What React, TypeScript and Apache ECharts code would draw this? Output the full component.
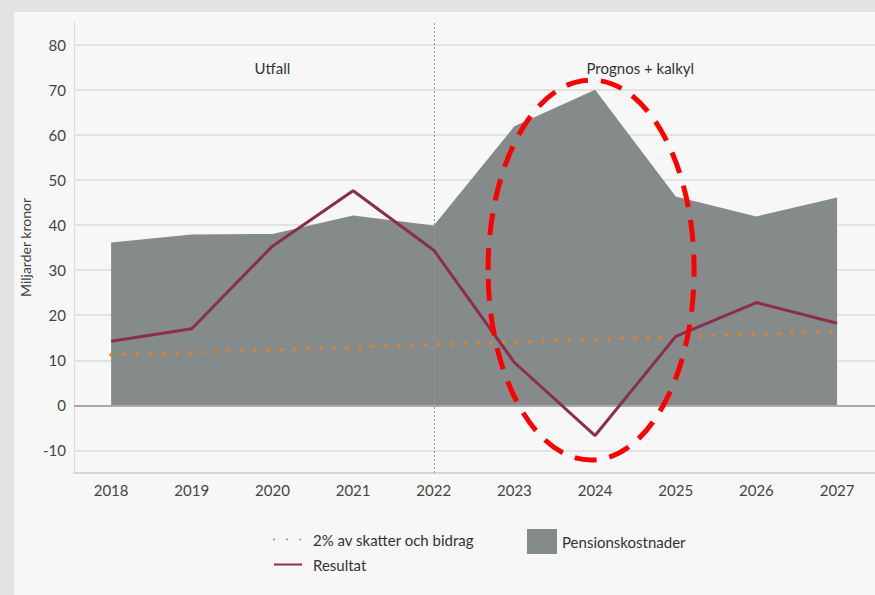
import React, { useEffect, useRef } from "react";
import * as echarts from "echarts";

const years = [2018, 2019, 2020, 2021, 2022, 2023, 2024, 2025, 2026, 2027];
const pension = [36.1, 37.9, 38.0, 42.1, 39.9, 61.9, 70.0, 46.3, 41.9, 46.1];
const resultat = [14.2, 17.0, 35.3, 47.6, 34.4, 9.5, -6.7, 15.3, 22.8, 18.2];
const tvaProcent = [11.2, 11.7, 12.3, 12.9, 13.5, 14.0, 14.6, 15.2, 15.8, 16.4];
const yTicks = [-10, 0, 10, 20, 30, 40, 50, 60, 70, 80];

const FONT = "Lato, 'Noto Sans', sans-serif";

export default function App() {
  const ref = useRef<HTMLDivElement>(null);
  useEffect(() => {
    if (!ref.current) return;
    const chart = echarts.init(ref.current, null, { renderer: "svg" });
    const pair = (arr: number[]) => years.map((y, i) => [y, arr[i]]);
    chart.setOption({
      animation: false,
      backgroundColor: "#e3e3e3",
      textStyle: { fontFamily: FONT },
      grid: { left: 74, right: 0, top: 22, bottom: 122, containLabel: false },
      xAxis: {
        type: "value",
        min: 2017.54,
        max: 2027.47,
        axisLine: { show: true, onZero: false, lineStyle: { color: "#d6d6d6", width: 2 } },
        axisTick: { show: false },
        splitLine: { show: false },
        axisLabel: {
          customValues: years,
          formatter: (v: number) => String(v),
          color: "#444",
          fontSize: 15,
          fontFamily: FONT,
          margin: 9,
        },
      },
      yAxis: {
        type: "value",
        min: -15,
        max: 85,
        name: "Miljarder kronor",
        nameLocation: "middle",
        nameGap: 40,
        nameRotate: 90,
        nameTextStyle: { color: "#444", fontSize: 14, fontFamily: FONT },
        axisLine: { show: true, lineStyle: { color: "#dcdcdc", width: 1 } },
        axisTick: { show: false },
        splitLine: { show: false },
        axisLabel: {
          customValues: yTicks,
          color: "#444",
          fontSize: 15,
          fontFamily: FONT,
          margin: 8,
        },
      },
      legend: [
        {
          data: ["2% av skatter och bidrag", "Resultat"],
          orient: "vertical",
          left: 268,
          top: 527,
          itemWidth: 28,
          itemHeight: 14,
          itemGap: 10,
          itemStyle: { opacity: 0 },
          textStyle: { color: "#333", fontSize: 15, fontFamily: FONT, padding: [0, 0, 0, 6] },
          selectedMode: false,
        },
        {
          data: [{ name: "Pensionskostnader", icon: "rect" }],
          left: 522,
          top: 524,
          itemWidth: 30,
          itemHeight: 25,
          textStyle: { color: "#333", fontSize: 15, fontFamily: FONT },
          selectedMode: false,
        },
      ],
      series: [
        {
          name: "grid",
          type: "line",
          data: [],
          z: 1,
          silent: true,
          markLine: {
            z: 1,
            silent: true,
            symbol: "none",
            label: { show: false },
            lineStyle: { color: "#e2e2e2", width: 2, type: "solid" },
            data: yTicks.filter((t) => t !== 0).map((t) => ({ yAxis: t })),
          },
        },
        {
          name: "Pensionskostnader",
          type: "line",
          data: pair(pension),
          z: 2,
          showSymbol: false,
          symbol: "none",
          lineStyle: { width: 0, color: "#858a8b" },
          itemStyle: { color: "#858a8b" },
          areaStyle: { color: "#858a8b", opacity: 1 },
        },
        {
          name: "zero",
          type: "line",
          data: [],
          z: 3,
          silent: true,
          markLine: {
            z: 3,
            silent: true,
            symbol: "none",
            label: { show: false },
            lineStyle: { color: "#a9a9a9", width: 2, type: "solid" },
            data: [{ yAxis: 0 }],
          },
        },
        {
          name: "2% av skatter och bidrag",
          type: "line",
          data: pair(tvaProcent),
          z: 4,
          showSymbol: false,
          symbol: "none",
          itemStyle: { color: "#e8801e" },
          lineStyle: { color: "#e8801e", width: 3.6, type: [0.1, 13], cap: "round" },
        },
        {
          name: "Resultat",
          type: "line",
          data: pair(resultat),
          z: 5,
          showSymbol: false,
          symbol: "none",
          itemStyle: { color: "#8a2f4b" },
          lineStyle: { color: "#8a2f4b", width: 3 },
          markLine: {
            z: 4,
            silent: true,
            symbol: "none",
            label: { show: false },
            lineStyle: { color: "#999", width: 1, type: [2, 2] },
            data: [{ xAxis: 2022 }],
          },
        },
      ],
    });
    const c = chart.convertToPixel({ gridIndex: 0 }, [2024, 30]) as number[];
    const utfall = chart.convertToPixel({ gridIndex: 0 }, [2020, 74.7]) as number[];
    const prognos = chart.convertToPixel({ gridIndex: 0 }, [2024.56, 74.7]) as number[];
    chart.setOption({
      graphic: [
        {
          type: "rect",
          z: -10,
          silent: true,
          shape: { x: 14, y: 12, width: 875, height: 600 },
          style: { fill: "#f7f7f7" },
        },
        {
          type: "text",
          x: utfall[0],
          y: utfall[1],
          z: 10,
          style: { text: "Utfall", fill: "#333", fontSize: 15, fontFamily: FONT, align: "center", verticalAlign: "middle" },
        },
        {
          type: "text",
          x: prognos[0],
          y: prognos[1],
          z: 10,
          style: { text: "Prognos + kalkyl", fill: "#333", fontSize: 15, fontFamily: FONT, align: "center", verticalAlign: "middle" },
        },
        {
          type: "ellipse",
          z: 20,
          silent: true,
          shape: { cx: c[0] - 4, cy: c[1], rx: 103, ry: 190 },
          style: { fill: "none", stroke: "#ff0000", lineWidth: 5, lineDash: [22, 13] },
        },
      ],
    });
    return () => chart.dispose();
  }, []);
  return <div ref={ref} style={{ position: "absolute", left: 0, top: 0, width: 875, height: 595 }} />;
}
